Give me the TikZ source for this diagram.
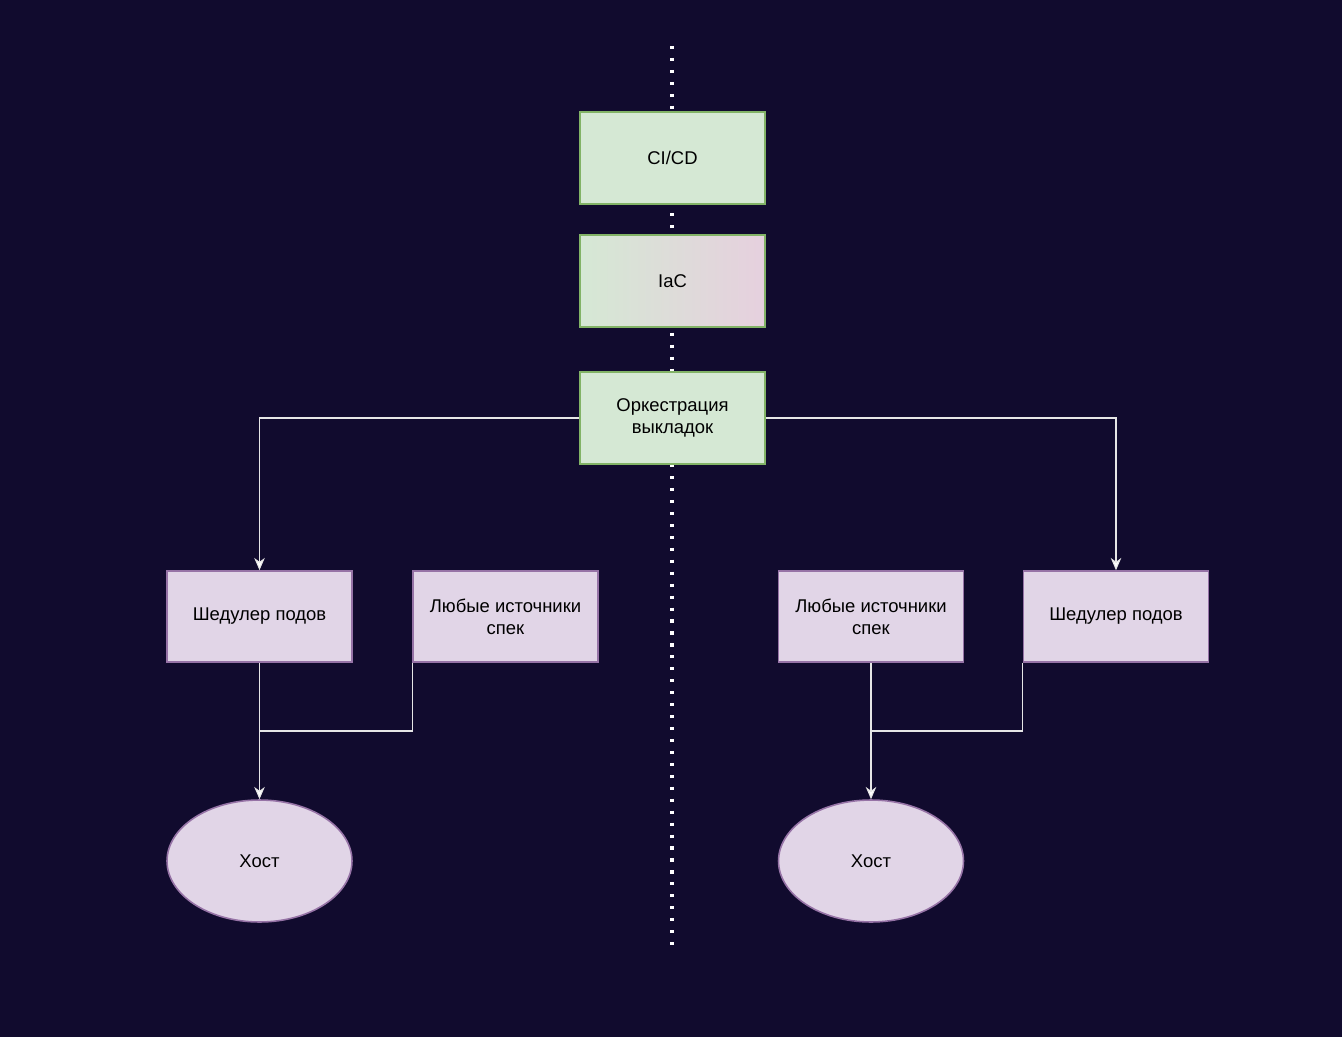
\documentclass[tikz,border=0pt]{standalone}
\usepackage{fontspec}
\setmainfont{Liberation Sans}
\usetikzlibrary{arrows.meta,shapes.geometric}
\definecolor{bgdark}{HTML}{110B2E}
\definecolor{greenfill}{HTML}{D5E8D4}
\definecolor{greenline}{HTML}{82B366}
\definecolor{purplefill}{HTML}{E1D5E7}
\definecolor{pinkfill}{HTML}{E6D0DE}
\definecolor{purpleline}{HTML}{9673A6}
\definecolor{wireclr}{HTML}{E6E6E6}

\begin{document}
\begin{tikzpicture}[x=0.02cm, y=-0.02cm,
    every node/.style={font=\fontsize{10.5}{12.5}\selectfont, text=black, align=center},
    greenbox/.style={draw=greenline, fill=greenfill, line width=0.9pt, minimum width=3.7cm, minimum height=1.84cm, inner sep=0pt},
    iacbox/.style={draw=greenline, left color=greenfill, right color=pinkfill, line width=0.9pt, minimum width=3.7cm, minimum height=1.84cm, inner sep=0pt},
    purplebox/.style={draw=purpleline, fill=purplefill, line width=0.9pt, minimum width=3.7cm, minimum height=1.82cm, inner sep=0pt},
    hostnode/.style={ellipse, draw=purpleline, fill=purplefill, line width=0.9pt, minimum width=3.7cm, minimum height=2.44cm, inner sep=0pt},
    wire/.style={draw=wireclr, line width=0.6pt},
    arr/.style={wire, -{Stealth[length=7pt, width=6pt, inset=2.2pt, fill=white]}}]
  \fill[bgdark] (0,0) rectangle (1342,1037);
  \useasboundingbox (0,0) rectangle (1342,1037);
  % dotted divider
  \coordinate (divtop) at (672,46);
  \coordinate (divbot) at (672,952);
  \draw[white, line width=1.8pt, dash pattern=on 1.8pt off 5pt] (divtop) -- (divbot);
  % centre column
  \node[greenbox] (cicd) at (672.5,158) {CI/CD};
  \node[iacbox] (iac) at (672.5,281) {IaC};
  \node[greenbox] (orch) at (672.5,418) {Оркестрация\\выкладок};
  % left side
  \node[purplebox] (shedL) at (259.5,616.5) {Шедулер подов};
  \node[purplebox] (srcL) at (505.5,616.5) {Любые источники\\спек};
  \node[hostnode] (hostL) at (259.5,861) {Хост};
  % right side
  \node[purplebox] (srcR) at (871,616.5) {Любые источники\\спек};
  \node[purplebox] (shedR) at (1116,616.5) {Шедулер подов};
  \node[hostnode] (hostR) at (871,861) {Хост};
  \coordinate (mergeL) at (259.5,731);
  \coordinate (mergeR) at (871,731);
  % connectors
  \draw[arr] (orch.west) -| (shedL.north);
  \draw[arr] (orch.east) -| (shedR.north);
  \draw[arr] (shedL.south) -- (hostL.north);
  \draw[wire] (srcL.south west) |- (mergeL);
  \draw[arr] (srcR.south) -- (hostR.north);
  \draw[wire] (shedR.south west) |- (mergeR);
\end{tikzpicture}
\end{document}
